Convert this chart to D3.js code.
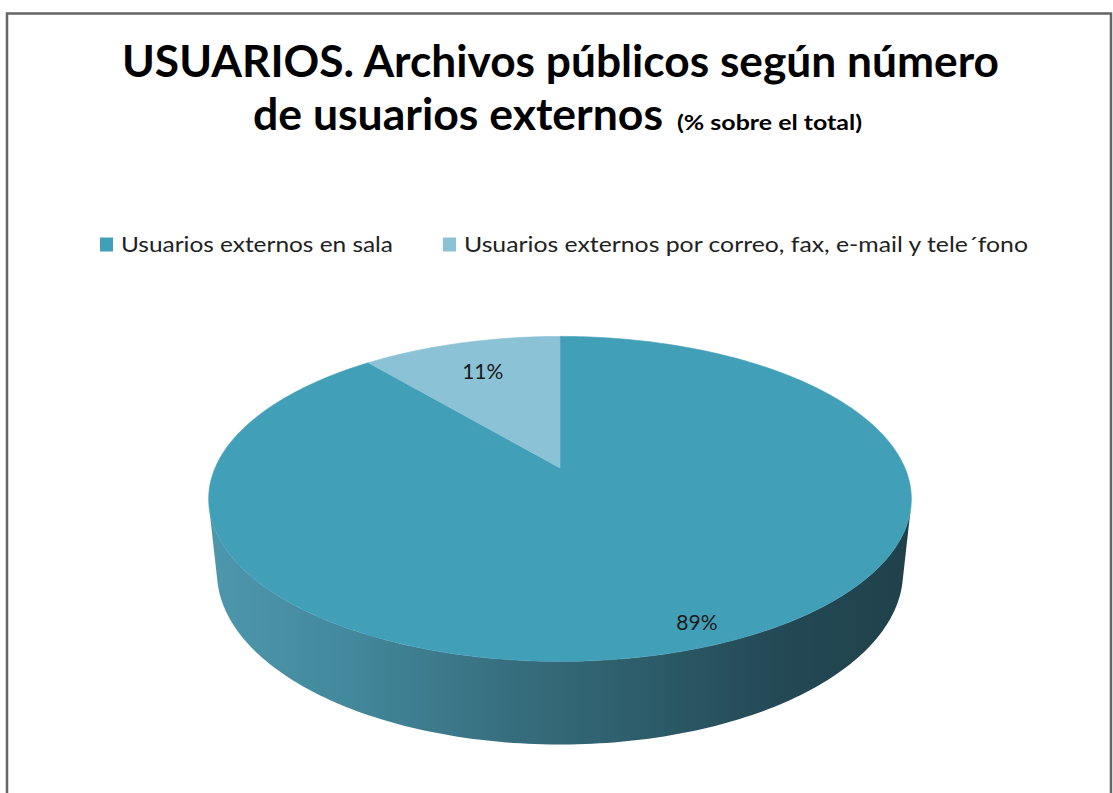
<!DOCTYPE html>
<html>
<head>
<meta charset="utf-8">
<script src="https://cdn.jsdelivr.net/npm/d3@7"></script>
<style>
  html, body { margin: 0; padding: 0; background: #ffffff; }
  svg { display: block; }
  text { font-family: Lato, "Open Sans", "Liberation Sans", sans-serif; }
</style>
</head>
<body>
<svg id="chart" width="1113" height="793"></svg>
<script>
// Share of external users of public archives
const categories = [
  "Usuarios externos en sala",
  "Usuarios externos por correo, fax, e-mail y tele\u00B4fono"
];
const shares = [89, 11];
const sliceColors = ["#429fb8", "#8bc2d5"];
const titleLine1 = "USUARIOS. Archivos p\u00FAblicos seg\u00FAn n\u00FAmero";
const titleLine2 = "de usuarios externos";
const titleNote = "(% sobre el total)";

const W = 1113, H = 793;
const svg = d3.select("#chart");

// Frame around the chart area
svg.append("rect").attr("x", 0).attr("y", 0).attr("width", W).attr("height", H).attr("fill", "#ffffff");
svg.append("path")
  .attr("d", `M7,${H + 2} L7,13.5 L1111,13.5 L1111,${H + 2}`)
  .attr("fill", "none").attr("stroke", "#666666").attr("stroke-width", 2.5);

// ---- Title ----
svg.append("text")
  .attr("x", 560.5).attr("y", 77)
  .attr("text-anchor", "middle")
  .attr("font-size", 44).attr("font-weight", 700).attr("fill", "#000")
  .attr("textLength", 877).attr("lengthAdjust", "spacingAndGlyphs")
  .text(titleLine1);

svg.append("text")
  .attr("x", 253).attr("y", 130)
  .attr("font-size", 44).attr("font-weight", 700).attr("fill", "#000")
  .attr("textLength", 410).attr("lengthAdjust", "spacingAndGlyphs")
  .text(titleLine2);

svg.append("text")
  .attr("x", 677).attr("y", 130)
  .attr("font-size", 21).attr("font-weight", 700).attr("fill", "#000")
  .attr("textLength", 185).attr("lengthAdjust", "spacingAndGlyphs")
  .text(titleNote);

// ---- Legend ----
const legendItems = [
  { x: 100, textW: 272 },
  { x: 443, textW: 564 }
];
const legend = svg.append("g");
categories.forEach((name, i) => {
  const it = legendItems[i];
  legend.append("rect")
    .attr("x", it.x).attr("y", 237.5).attr("width", 13).attr("height", 14)
    .attr("fill", sliceColors[i]);
  legend.append("text")
    .attr("x", it.x + 21).attr("y", 252)
    .attr("font-size", 21).attr("fill", "#222")
    .attr("textLength", it.textW).attr("lengthAdjust", "spacingAndGlyphs")
    .text(name);
});

// ---- 3D pie with a perspective camera ----
const cx = 560, cy = 468;          // screen position of the pie centre
const focal = 1616;                // focal length in pixels
const dist = 4.685;                // camera distance (in pie radii)
const elev = 27 * Math.PI / 180;   // camera elevation
const depthH = 0.24;               // thickness of the pie (in radii)
const ce = Math.cos(elev), se = Math.sin(elev);

// x: right, y: away from viewer, z: up (top face at z = 0)
function project(x, y, z) {
  const py = y + dist * ce, pz = z - dist * se;
  const depth = py * ce - pz * se;
  const up = py * se + pz * ce;
  return [cx + focal * x / depth, cy - focal * up / depth];
}
// angle measured clockwise from 12 o'clock (far side)
const rimPoint = (a, r, z) => project(r * Math.sin(a), r * Math.cos(a), z);

const pie = d3.pie().sort(null).value(d => d).startAngle(0).endAngle(2 * Math.PI);
const arcs = pie(shares);
const line = d3.line();
const steps = a => Math.max(8, Math.ceil(Math.abs(a) / (Math.PI / 180)));

// Side wall: the visible near part of the rim lies between the silhouettes
const silA = Math.acos(-1 / (dist * ce));
const silB = 2 * Math.PI - silA;

const defs = svg.append("defs");
const left = rimPoint(silB, 1, 0)[0], right = rimPoint(silA, 1, 0)[0];
const grad = defs.append("linearGradient")
  .attr("id", "sideShade").attr("gradientUnits", "userSpaceOnUse")
  .attr("x1", left).attr("x2", right).attr("y1", 0).attr("y2", 0);
[[0, "#4e97ac"], [0.2, "#43889c"], [0.42, "#376f7f"], [0.6, "#2e5e6c"], [0.8, "#244a56"], [1, "#20414a"]]
  .forEach(([o, c]) => grad.append("stop").attr("offset", o).attr("stop-color", c));

const sideG = svg.append("g");
arcs.forEach(d => {
  const a0 = Math.max(d.startAngle, silA), a1 = Math.min(d.endAngle, silB);
  if (a1 <= a0) return;
  const n = steps(a1 - a0);
  const topPts = d3.range(n + 1).map(k => rimPoint(a0 + (a1 - a0) * k / n, 1, 0));
  const botPts = d3.range(n + 1).map(k => rimPoint(a1 - (a1 - a0) * k / n, 1, -depthH));
  sideG.append("path")
    .attr("d", line(topPts.concat(botPts)) + "Z")
    .attr("fill", "url(#sideShade)");
});

// Top face
const topG = svg.append("g");
arcs.forEach((d, i) => {
  const n = steps(d.endAngle - d.startAngle);
  const pts = [project(0, 0, 0)].concat(
    d3.range(n + 1).map(k => rimPoint(d.startAngle + (d.endAngle - d.startAngle) * k / n, 1, 0)));
  topG.append("path")
    .attr("d", line(pts) + "Z")
    .attr("fill", sliceColors[i])
    .attr("stroke", sliceColors[i]).attr("stroke-width", 0.6);
});

// Percentage labels
const fmt = v => `${v}%`;
arcs.forEach(d => {
  const mid = (d.startAngle + d.endAngle) / 2;
  const big = (d.endAngle - d.startAngle) > Math.PI;
  const r = big ? 0.89 : 0.75;
  const a = big ? mid - 0.04 : mid;
  const [lx, ly] = rimPoint(a, r, 0);
  svg.append("text")
    .attr("x", lx).attr("y", ly)
    .attr("text-anchor", "middle").attr("dominant-baseline", "central")
    .attr("font-size", 21).attr("fill", "#1a1a1a")
    .text(fmt(d.data));
});
</script>
</body>
</html>
